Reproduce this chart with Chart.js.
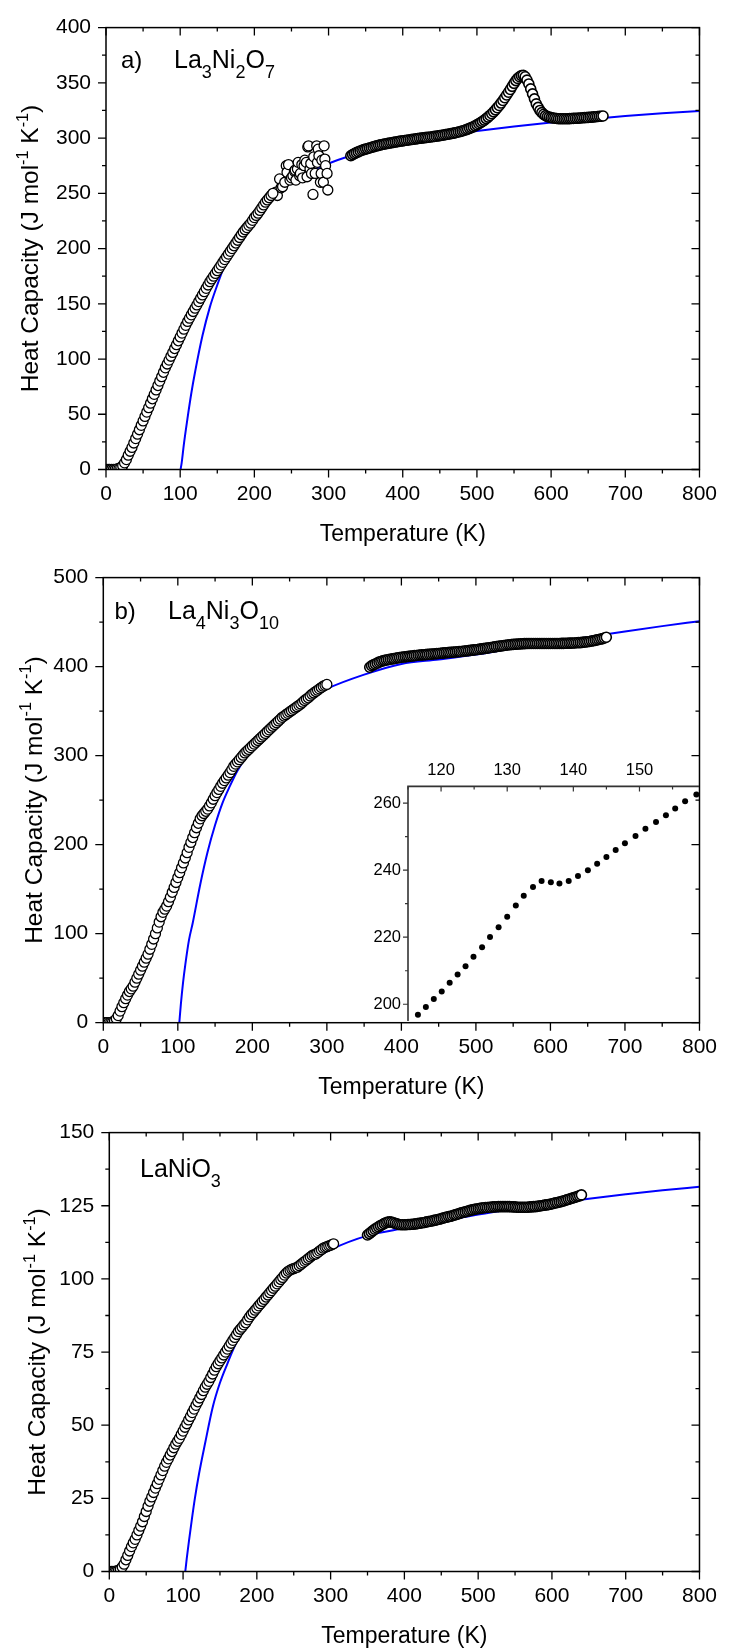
<!DOCTYPE html>
<html>
<head>
<meta charset="utf-8">
<script src="https://cdn.jsdelivr.net/npm/chart.js@4.4.1/dist/chart.umd.min.js"></script>
<style>
  html, body { margin: 0; padding: 0; background: #fff; }
  #wrap { position: relative; width: 729px; height: 1649px; overflow: hidden; }
  canvas { position: absolute; left: 0; }
</style>
</head>
<body>
<div id="wrap">
  <canvas id="chartA" width="729" height="550" style="top:0px"></canvas>
  <canvas id="chartB" width="729" height="555" style="top:550px"></canvas>
  <canvas id="chartInset" width="399" height="300" style="top:740px;left:330px"></canvas>
  <canvas id="chartC" width="729" height="544" style="top:1105px"></canvas>
</div>
<script>
const FONT = "'Liberation Sans', Arial, Helvetica, sans-serif";

// ---------- a) La3Ni2O7 : [T (K), Cp (J/mol/K)] ----------
const a_low = [
  [0,0],[2.5,0],[5,0],[7.5,0],[10,0],[12.5,0.2],[15,0.5],[17.5,1],[20,2],[22.5,3.5],
  [25,6],[27.5,9],[30,13],[32.5,16.5],[35,20],[37.5,24],[40,28],[42.5,32],[45,36],[47.5,40],
  [50,44],[52.5,48],[55,52],[57.5,56],[60,60],[62.5,64],[65,68],[67.5,72],[70,76],[72.5,80],
  [75,84],[77.5,88],[80,92],[82.5,95.5],[85,99],[87.5,102.5],[90,106],[92.5,109.5],[95,113],[97.5,116.5],
  [100,120],[102.5,123.5],[105,127],[107.5,130.5],[110,134],[112.5,137],[115,140],[117.5,143],[120,146],[122.5,149],
  [125,152],[127.5,155],[130,158],[132.5,161],[135,164],[137.5,167],[140,170],[142.5,172.5],[145,175],[147.5,177.5],
  [150,180],[152.5,182.5],[155,185],[157.5,187.5],[160,190],[162.5,192.5],[165,195],[167.5,197.5],[170,200],[172.5,202.5],
  [175,205],[177.5,207.5],[180,210],[182.5,212.5],[185,215],[187.5,217],[190,219],[192.5,221],[195,223],[197.5,225.5],
  [200,228],[202.5,230],[205,232],[207.5,234.5],[210,237],[212.5,239.5],[215,242],[217.5,244],[220,246],[222.5,248],
  [225,250]
];
const a_scatter = [
  [229,251],[231,248],[234,263],[236,255],[238,256],[241,260],[243,275],[244,269],[246,276],[248,262],
  [250,264],[252,266],[254,270],[255,271],[256,262],[258,272],[259,278],[261,266],[262,268],[264,276],
  [265,264],[267,275],[268,280],[270,278],[271,265],[272,292],[273,293],[275,272],[276,277],[277,268],
  [279,249],[280,283],[282,268],[284,293],[285,278],[286,290],[287,284],[289,260],[290,268],[291,280],
  [293,260],[294,293],[295,281],[296,275],[298,268],[299,253]
];
const a_high = [
  [330,284],[332.5,285],[335,286],[337.5,286.8],[340,287.5],[342.5,288.3],[345,289],[347.5,289.5],[350,290],[352.5,290.5],
  [355,291],[357.5,291.5],[360,292],[362.5,292.5],[365,293],[367.5,293.4],[370,293.8],[372.5,294.2],[375,294.5],[377.5,294.9],
  [380,295.2],[382.5,295.5],[385,295.8],[387.5,296.1],[390,296.4],[392.5,296.7],[395,297],[397.5,297.3],[400,297.5],[402.5,297.8],
  [405,298],[407.5,298.3],[410,298.5],[412.5,298.8],[415,299],[417.5,299.3],[420,299.5],[422.5,299.8],[425,300],[427.5,300.2],
  [430,300.4],[432.5,300.6],[435,300.8],[437.5,301],[440,301.2],[442.5,301.5],[445,301.7],[447.5,302],[450,302.2],[452.5,302.5],
  [455,302.8],[457.5,303.1],[460,303.4],[462.5,303.7],[465,304],[467.5,304.3],[470,304.7],[472.5,305.1],[475,305.5],[477.5,305.9],
  [480,306.4],[482.5,306.9],[485,307.5],[487.5,308.1],[490,308.8],[492.5,309.5],[495,310.2],[497.5,311.1],[500,312],[502.5,313],
  [505,314],[507.5,315.1],[510,316.3],[512.5,317.6],[515,319],[517.5,320.5],[520,322],[522.5,323.7],[525,325.5],[527.5,327.5],
  [530,329.5],[532.5,331.7],[535,334],[537.5,336.5],[540,339],[542.5,341.5],[545,344],[547.5,346.8],[550,349.5],[552.5,352],
  [555,354],[557.5,355.5],[560,356.5],[562.5,356.8],[565,355.5],[567.5,352.5],[570,349],[572.5,344.5],[575,340],[577.5,335.5],
  [580,331],[582.5,327.8],[585,325],[587.5,323],[590,321.5],[592.5,320.3],[595,319.5],[597.5,319],[600,318.5],[602.5,318.2],
  [605,318],[607.5,317.7],[610,317.5],[612.5,317.5],[615,317.5],[617.5,317.5],[620,317.5],[622.5,317.5],[625,317.6],[627.5,317.7],
  [630,317.8],[632.5,317.9],[635,318],[637.5,318.1],[640,318.2],[642.5,318.4],[645,318.5],[647.5,318.6],[650,318.7],[652.5,318.9],
  [655,319],[657.5,319.2],[660,319.3],[662.5,319.5],[665,319.7],[667.5,319.8],[670,320]
];
const a_fit = [
  [100.5,0],[102,6],[105,23],[110,47],[115,69],[120,88],[130,121],[140,147],[150,167],[160,185],
  [170,199],[180,211],[200,230],[225,247],[250,260],[275,269.5],[300,277],[350,288],[400,296],[450,302],
  [500,306.5],[550,310.5],[600,314],[650,317],[700,320],[750,322.5],[800,324.5]
];

// ---------- b) La4Ni3O10 (low-T run measured in three pieces) ----------
const b_low1 = [
  [0,0],[2.5,0],[5,0],[7.5,0],[10,0.3],[12.5,1],[15,2],[17.5,4.5],[20,8],[22.5,13],
  [25,18],[27.5,22.5],[30,27],[32.5,31],[35,35],[37.5,38],[40,41]
];
const b_low2 = [
  [42.5,45.5],[45,50],[47.5,54.5],[50,59],[52.5,63.5],[55,68],[57.5,72.5],[60,77],[62.5,82.5],[65,88],
  [67.5,94],[70,100],[72.5,106.5],[75,113],[77.5,119],[80,124]
];
const b_low3 = [
  [82.5,127.5],[85,131],[87.5,136],[90,141],[92.5,146.5],[95,152],[97.5,157.5],
  [100,163],[102.5,168.5],[105,174],[107.5,179.5],[110,185],[112.5,191],[115,197],[117.5,202.5],[120,208],[122.5,213.5],
  [125,219],[127.5,224],[130,229],[132.5,232.5],[135,235],[137.5,237.5],[140,240],[142.5,243.5],[145,247],[147.5,251],
  [150,255],[152.5,258.5],[155,262],[157.5,265.5],[160,269],[162.5,272],[165,275],[167.5,278],[170,281],[172.5,284.5],
  [175,288],[177.5,290.5],[180,293],[182.5,295.5],[185,298],[187.5,300.5],[190,303],[192.5,305],[195,307],[197.5,309],
  [200,311],[202.5,313],[205,315],[207.5,317],[210,319],[212.5,321],[215,323],[217.5,325],[220,327],[222.5,329],
  [225,331],[227.5,333],[230,335],[232.5,337],[235,339],[237.5,341],[240,343],[242.5,344.5],[245,346],[247.5,347.5],
  [250,349],[252.5,350.5],[255,352],[257.5,353.5],[260,355],[262.5,356.5],[265,358],[267.5,360],[270,362],[272.5,363.5],
  [275,365],[277.5,367],[280,369],[282.5,370.5],[285,372],[287.5,373.5],[290,375],[292.5,376.5],[295,378],[297.5,379],
  [300,380]
];
const b_high = [
  [357.5,399.3],[360,401],[362.5,402],[365,403],[367.5,404],[370,405],[372.5,405.8],[375,406.5],[377.5,407],[380,407.5],
  [382.5,407.9],[385,408.3],[387.5,408.7],[390,409],[392.5,409.4],[395,409.8],[397.5,410.2],[400,410.5],[402.5,410.8],[405,411],
  [407.5,411.3],[410,411.5],[412.5,411.8],[415,412],[417.5,412.3],[420,412.5],[422.5,412.8],[425,413],[427.5,413.2],[430,413.3],
  [432.5,413.5],[435,413.7],[437.5,413.9],[440,414],[442.5,414.2],[445,414.4],[447.5,414.6],[450,414.8],[452.5,415],[455,415.2],
  [457.5,415.4],[460,415.5],[462.5,415.8],[465,416],[467.5,416.2],[470,416.3],[472.5,416.5],[475,416.7],[477.5,416.9],[480,417],
  [482.5,417.3],[485,417.5],[487.5,417.8],[490,418],[492.5,418.3],[495,418.5],[497.5,418.8],[500,419],[502.5,419.3],[505,419.6],
  [507.5,419.9],[510,420.2],[512.5,420.5],[515,420.8],[517.5,421.2],[520,421.5],[522.5,421.8],[525,422.2],[527.5,422.5],[530,422.8],
  [532.5,423.1],[535,423.4],[537.5,423.7],[540,424],[542.5,424.3],[545,424.5],[547.5,424.8],[550,425],[552.5,425.2],[555,425.3],
  [557.5,425.4],[560,425.5],[562.5,425.7],[565,425.8],[567.5,425.9],[570,426],[572.5,426],[575,426],[577.5,426],[580,426],
  [582.5,426],[585,426],[587.5,426],[590,426],[592.5,426],[595,426],[597.5,426],[600,426],[602.5,426],[605,426],
  [607.5,426],[610,426],[612.5,426],[615,426.1],[617.5,426.1],[620,426.2],[622.5,426.3],[625,426.4],[627.5,426.4],[630,426.5],
  [632.5,426.6],[635,426.8],[637.5,426.9],[640,427],[642.5,427.2],[645,427.5],[647.5,427.7],[650,428],[652.5,428.3],[655,428.7],
  [657.5,429.1],[660,429.5],[662.5,430],[665,430.5],[667.5,431],[670,431.5],[672.5,432.2],[675,433]
];
const b_fit = [
  [102,0],[104,20],[107,45],[110,65],[115,93],[120,112],[130,155],[140,192],[150,222],[160,247],
  [170,266],[180,283],[200,309],[225,332],[250,349],[275,363],[300,375],[350,391],[400,403],[450,408],
  [500,413.5],[550,420.5],[600,427],[650,433],[700,439.5],[750,445.5],[800,451]
];

// inset: 115-160 K detail of La4Ni3O10
const b_inset = [
  [116.5,196.9],[117.7,199.2],[118.9,201.6],[120.1,203.8],[121.3,206.4],[122.5,208.9],[123.7,211.3],[124.9,214.2],
  [126.2,217.0],[127.4,220.1],[128.7,223.0],[130.0,226.1],[131.3,229.5],[132.5,232.4],[133.9,235.0],[135.2,236.8],
  [136.6,236.4],[137.9,236.0],[139.3,236.8],[140.7,238.3],[142.2,240.0],[143.6,241.9],[145.0,243.9],[146.4,246.0],
  [147.8,248.0],[149.4,250.2],[150.9,252.4],[152.5,254.4],[154.0,256.4],[155.4,258.4],[156.9,260.6],[158.6,262.6]
];

// ---------- LaNiO3 ----------
const c_low = [
  [0,0],[2.5,0],[5,0],[7.5,0],[10,0.2],[12.5,0.5],[15,0.8],[17.5,1.5],[20,2.5],[22.5,4],
  [25,5.5],[27.5,7],[30,8.5],[32.5,9.8],[35,11],[37.5,12.5],[40,14],[42.5,15.5],[45,17],[47.5,18.8],
  [50,20.5],[52.5,22.3],[55,24],[57.5,25.5],[60,27],[62.5,28.5],[65,30],[67.5,31.5],[70,33],[72.5,34.5],
  [75,36],[77.5,37.3],[80,38.5],[82.5,39.8],[85,41],[87.5,42.3],[90,43.5],[92.5,44.5],[95,45.5],[97.5,46.8],
  [100,48],[102.5,49.3],[105,50.5],[107.5,51.8],[110,53],[112.5,54.3],[115,55.5],[117.5,56.8],[120,58],[122.5,59.3],
  [125,60.5],[127.5,61.8],[130,63],[132.5,64],[135,65],[137.5,66.3],[140,67.5],[142.5,68.8],[145,70],[147.5,71],
  [150,72],[152.5,73],[155,74],[157.5,75],[160,76],[162.5,77],[165,78],[167.5,79],[170,80],[172.5,81],
  [175,82],[177.5,82.8],[180,83.5],[182.5,84.3],[185,85],[187.5,86],[190,87],[192.5,87.8],[195,88.5],[197.5,89.3],
  [200,90],[202.5,90.8],[205,91.5],[207.5,92.3],[210,93],[212.5,93.8],[215,94.5],[217.5,95.3],[220,96],[222.5,96.8],
  [225,97.5],[227.5,98.3],[230,99],[232.5,99.8],[235,100.5],[237.5,101.3],[240,102],[242.5,102.6],[245,103],[247.5,103.3],
  [250,103.5],[252.5,103.8],[255,104],[257.5,104.5],[260,105],[262.5,105.5],[265,106],[267.5,106.5],[270,107],[272.5,107.5],
  [275,108],[277.5,108.3],[280,108.5],[282.5,109],[285,109.5],[287.5,110],[290,110.5],[292.5,110.8],[295,111],[297.5,111.3],
  [300,111.5],[302.5,111.8],[304,112]
];
const c_high = [
  [350,115],[352.5,115.5],[355,116],[357.5,116.5],[360,117],[362.5,117.4],[365,117.8],[367.5,118.2],[370,118.5],[372.5,118.9],
  [375,119.2],[377.5,119.4],[380,119.5],[382.5,119.4],[385,119.2],[387.5,119],[390,118.8],[392.5,118.6],[395,118.5],[397.5,118.5],
  [400,118.5],[402.5,118.5],[405,118.6],[407.5,118.6],[410,118.7],[412.5,118.7],[415,118.8],[417.5,118.9],[420,119],[422.5,119.1],
  [425,119.2],[427.5,119.3],[430,119.5],[432.5,119.6],[435,119.7],[437.5,119.8],[440,120],[442.5,120.1],[445,120.3],[447.5,120.4],
  [450,120.6],[452.5,120.8],[455,121],[457.5,121.1],[460,121.3],[462.5,121.4],[465,121.6],[467.5,121.8],[470,122],[472.5,122.2],
  [475,122.4],[477.5,122.6],[480,122.8],[482.5,122.9],[485,123.1],[487.5,123.3],[490,123.5],[492.5,123.6],[495,123.8],[497.5,123.9],
  [500,124],[502.5,124.1],[505,124.2],[507.5,124.3],[510,124.4],[512.5,124.4],[515,124.5],[517.5,124.5],[520,124.6],[522.5,124.6],
  [525,124.65],[527.5,124.7],[530,124.7],[532.5,124.7],[535,124.7],[537.5,124.7],[540,124.7],[542.5,124.7],[545,124.65],[547.5,124.6],
  [550,124.6],[552.5,124.5],[555,124.5],[557.5,124.5],[560,124.5],[562.5,124.5],[565,124.5],[567.5,124.5],[570,124.6],[572.5,124.6],
  [575,124.7],[577.5,124.7],[580,124.8],[582.5,124.9],[585,125],[587.5,125.1],[590,125.2],[592.5,125.3],[595,125.4],[597.5,125.5],
  [600,125.7],[602.5,125.8],[605,126],[607.5,126.1],[610,126.3],[612.5,126.4],[615,126.6],[617.5,126.8],[620,127],[622.5,127.2],
  [625,127.4],[627.5,127.6],[630,127.8],[632.5,128],[635,128.2],[637.5,128.4],[640,128.7]
];
const c_fit = [
  [103,0],[105,4.5],[108,10.5],[112,18],[116,25],[121.7,33.5],[130,44],[140,56],[150,64.5],[160,71],
  [170,77],[180,82],[200,90],[225,97],[250,102.5],[275,106.5],[300,110],[350,114.8],[400,117.3],[450,119.6],
  [500,122],[550,124],[600,125.8],[650,127.4],[700,128.9],[750,130.3],[800,131.5]
];

const pts = arr => arr.map(([x, y]) => ({ x, y }));

const openCircles = {
  showLine: false, pointStyle: 'circle', pointRadius: 5, pointHoverRadius: 5,
  pointBorderWidth: 1.3, pointBorderColor: '#000', pointBackgroundColor: '#fff'
};
// the high-T runs are sampled more densely and read as an almost solid band
const denseCircles = { ...openCircles, pointBorderWidth: 1.6 };
const fitLine = {
  showLine: true, pointRadius: 0, borderColor: '#0000ff', borderWidth: 2,
  cubicInterpolationMode: 'monotone', fill: false
};

// text with sub/superscripts, laid out left to right from x on baseline y
function richWidth(ctx, parts, size, small) {
  let w = 0;
  parts.forEach(([t, kind]) => {
    ctx.font = `${kind ? size * small : size}px ${FONT}`;
    w += ctx.measureText(t).width;
  });
  return w;
}
function drawRich(ctx, parts, x, y, size, small, shift) {
  let cx = x;
  ctx.textAlign = 'left';
  ctx.textBaseline = 'alphabetic';
  parts.forEach(([t, kind]) => {
    ctx.font = `${kind ? size * small : size}px ${FONT}`;
    const dy = kind === 'sub' ? size * shift : kind === 'sup' ? -size * shift : 0;
    ctx.fillText(t, cx, y + dy);
    cx += ctx.measureText(t).width;
  });
}

const yTitle = [['Heat Capacity (J mol'], ['-1', 'sup'], [' K'], ['-1', 'sup'], [')']];

function isMultiple(v, step) {
  const r = v / step;
  return Math.abs(r - Math.round(r)) < 1e-6;
}

function panelDecor(p) {
  return {
    id: 'decor',
    afterDatasetsDraw(chart) {
      const { ctx, chartArea: a, scales: { x, y } } = chart;
      ctx.save();
      ctx.strokeStyle = '#000';
      ctx.lineWidth = 1.5;
      ctx.strokeRect(a.left, a.top, a.right - a.left, a.bottom - a.top);

      // outward ticks on bottom/left, inward mirror ticks on top/right
      ctx.lineWidth = 1.3;
      ctx.beginPath();
      for (let v = x.min; v <= x.max + 1e-6; v += p.xMinor) {
        const px = x.getPixelForValue(v);
        const len = isMultiple(v, p.xMajor) ? 8 : 4;
        ctx.moveTo(px, a.bottom); ctx.lineTo(px, a.bottom + len);
        ctx.moveTo(px, a.top); ctx.lineTo(px, a.top + len);
      }
      for (let v = y.min; v <= y.max + 1e-6; v += p.yMinor) {
        const py = y.getPixelForValue(v);
        const len = isMultiple(v, p.yMajor) ? 8 : 4;
        ctx.moveTo(a.left, py); ctx.lineTo(a.left - len, py);
        ctx.moveTo(a.right, py); ctx.lineTo(a.right - len, py);
      }
      ctx.stroke();

      ctx.fillStyle = '#000';
      ctx.font = `23px ${FONT}`;
      ctx.textAlign = 'center';
      ctx.textBaseline = 'middle';
      ctx.fillText('Temperature (K)', (a.left + a.right) / 2, a.bottom + 65);

      const size = 24.5;
      const w = richWidth(ctx, yTitle, size, 0.66);
      ctx.save();
      ctx.translate(p.yTitleX, (a.top + a.bottom) / 2);
      ctx.rotate(-Math.PI / 2);
      drawRich(ctx, yTitle, -w / 2, size * 0.36, size, 0.66, 0.42);
      ctx.restore();

      if (p.tag) {
        ctx.font = `24px ${FONT}`;
        ctx.textAlign = 'left';
        ctx.textBaseline = 'alphabetic';
        ctx.fillText(p.tag, p.tagX, p.labelY);
      }
      drawRich(ctx, p.formula, p.formulaX, p.labelY, 25, 0.72, 0.4);
      ctx.restore();
    }
  };
}

function makePanel(p) {
  const canvas = document.getElementById(p.id);
  const W = canvas.width, H = canvas.height;
  const tickFont = { family: FONT, size: 21 };
  return new Chart(canvas, {
    type: 'scatter',
    data: { datasets: p.datasets },
    options: {
      responsive: false,
      animation: false,
      devicePixelRatio: 1,
      layout: { padding: { left: 0, bottom: 0, top: p.area.top - p.top, right: W - p.area.right } },
      plugins: { legend: { display: false }, tooltip: { enabled: false } },
      scales: {
        x: {
          type: 'linear', min: 0, max: 800,
          afterFit: s => { s.height = H - (p.area.bottom - p.top); },
          ticks: { stepSize: p.xMajor, padding: 12, font: tickFont, color: '#000', maxRotation: 0, autoSkip: false },
          grid: { display: false, drawTicks: false },
          border: { display: false }
        },
        y: {
          type: 'linear', min: 0, max: p.yMax,
          afterFit: s => { s.width = p.area.left; },
          ticks: { stepSize: p.yMajor, padding: 15, font: tickFont, color: '#000', autoSkip: false },
          grid: { display: false, drawTicks: false },
          border: { display: false }
        }
      }
    },
    plugins: [panelDecor(p)]
  });
}

makePanel({
  id: 'chartA', top: 0,
  area: { left: 106, right: 704, top: 25, bottom: 469.5 },
  yMax: 400, yMajor: 50, yMinor: 25, xMajor: 100, xMinor: 50,
  yTitleX: 29, tag: 'a)', tagX: 121, formulaX: 174, labelY: 68,
  formula: [['La'], ['3', 'sub'], ['Ni'], ['2', 'sub'], ['O'], ['7', 'sub']],
  datasets: [
    { ...openCircles, data: pts(a_low) },
    { ...openCircles, data: pts(a_scatter) },
    { ...denseCircles, data: pts(a_high) },
    { ...fitLine, data: pts(a_fit) }
  ]
});

// later pieces first so the end point of each earlier piece stays visible
makePanel({
  id: 'chartB', top: 550,
  area: { left: 103.3, right: 704, top: 567.7, bottom: 1022.7 },
  yMax: 500, yMajor: 100, yMinor: 50, xMajor: 100, xMinor: 50,
  yTitleX: 32.7, tag: 'b)', tagX: 114.5, formulaX: 168, labelY: 619 - 550,
  formula: [['La'], ['4', 'sub'], ['Ni'], ['3', 'sub'], ['O'], ['10', 'sub']],
  datasets: [
    { ...openCircles, data: pts(b_low3) },
    { ...openCircles, data: pts(b_low2) },
    { ...openCircles, data: pts(b_low1) },
    { ...denseCircles, data: pts(b_high) },
    { ...fitLine, data: pts(b_fit) }
  ]
});

makePanel({
  id: 'chartC', top: 1105,
  area: { left: 109.3, right: 704, top: 1127, bottom: 1571.5 },
  yMax: 150, yMajor: 25, yMinor: 12.5, xMajor: 100, xMinor: 50,
  yTitleX: 36, tag: null, formulaX: 140, labelY: 1177 - 1105,
  formula: [['LaNiO'], ['3', 'sub']],
  datasets: [
    { ...openCircles, data: pts(c_low) },
    { ...denseCircles, data: pts(c_high) },
    { ...fitLine, data: pts(c_fit) }
  ]
});

// inset axes: only the left and top lines are drawn
const insetDecor = {
  id: 'insetDecor',
  afterDatasetsDraw(chart) {
    const { ctx, chartArea: a, scales: { x, y } } = chart;
    ctx.save();
    ctx.strokeStyle = '#333';
    ctx.lineWidth = 1.6;
    ctx.beginPath();
    ctx.moveTo(a.left, a.bottom); ctx.lineTo(a.left, a.top); ctx.lineTo(a.right, a.top);
    ctx.stroke();
    ctx.lineWidth = 1.2;
    ctx.beginPath();
    for (let v = 115; v <= x.max; v += 5) {
      const px = x.getPixelForValue(v);
      const len = isMultiple(v, 10) ? 5 : 3;
      ctx.moveTo(px, a.top); ctx.lineTo(px, a.top + len);
    }
    for (let v = 200; v <= y.max; v += 10) {
      const py = y.getPixelForValue(v);
      const len = isMultiple(v, 20) ? 5 : 3;
      ctx.moveTo(a.left, py); ctx.lineTo(a.left - len, py);
    }
    ctx.stroke();
    ctx.restore();
  }
};

new Chart(document.getElementById('chartInset'), {
  type: 'scatter',
  data: {
    datasets: [{
      data: pts(b_inset), showLine: false, pointRadius: 3, pointHoverRadius: 3,
      pointBorderWidth: 0, pointBackgroundColor: '#000'
    }]
  },
  options: {
    responsive: false,
    animation: false,
    devicePixelRatio: 1,
    layout: { padding: { left: 0, top: 0, right: 30, bottom: 19 } },
    plugins: { legend: { display: false }, tooltip: { enabled: false } },
    scales: {
      x: {
        type: 'linear', position: 'top', min: 115, max: 159,
        afterFit: s => { s.height = 46.4; },
        ticks: { stepSize: 10, includeBounds: false, padding: 6, font: { family: FONT, size: 16.5 }, color: '#000', maxRotation: 0, autoSkip: false },
        grid: { display: false, drawTicks: false },
        border: { display: false }
      },
      y: {
        type: 'linear', min: 195, max: 265,
        afterFit: s => { s.width = 78; },
        ticks: { stepSize: 20, includeBounds: false, padding: 7, font: { family: FONT, size: 16.5 }, color: '#000', autoSkip: false },
        grid: { display: false, drawTicks: false },
        border: { display: false }
      }
    }
  },
  plugins: [insetDecor]
});
</script>
</body>
</html>
